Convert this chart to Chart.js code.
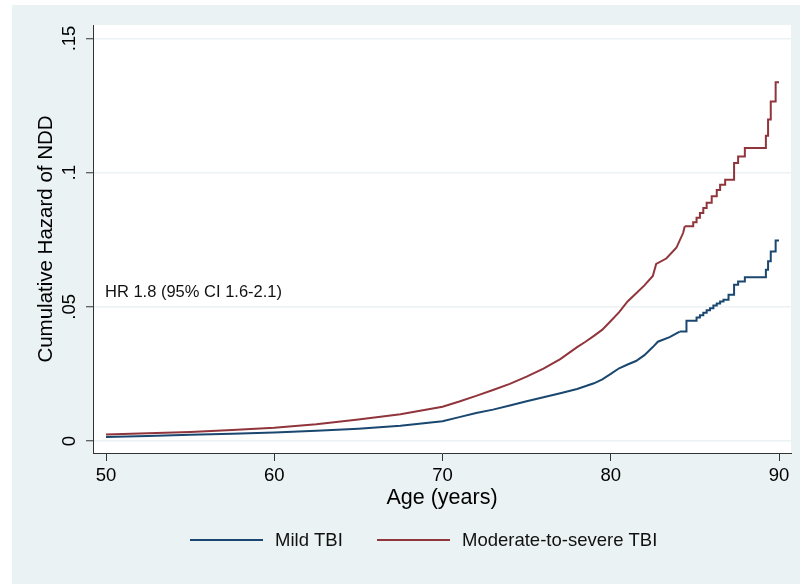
<!DOCTYPE html>
<html>
<head>
<meta charset="utf-8">
<title>Cumulative Hazard of NDD</title>
<script src="https://cdn.jsdelivr.net/npm/chart.js@4.4.1/dist/chart.umd.min.js"></script>
<style>
    html, body { margin: 0; padding: 0; background: #fff; }
    canvas { display: block; }
</style>
</head>
<body>
<canvas id="hazardChart" width="800" height="584"></canvas>
<script>
// values (age in years, cumulative hazard)
const mildAges = [50, 52.5, 55, 57.5, 60, 62.5, 65, 67.5, 70, 71, 72, 73, 74, 75, 76, 77, 78, 79, 79.5, 80, 80.5, 81, 81.5, 82, 82.5, 82.8, 83.5, 84.1, 84.5, 85.1, 85.3, 85.5, 85.7, 85.9, 86.1, 86.3, 86.5, 86.7, 87, 87.33, 87.57, 87.97, 89.22, 89.35, 89.51, 89.8, 90];
const mildHazard = [0.0015, 0.0019, 0.0023, 0.0027, 0.0032, 0.0038, 0.0046, 0.0057, 0.0074, 0.0089, 0.0104, 0.0117, 0.0132, 0.0148, 0.0163, 0.0178, 0.0194, 0.0215, 0.0230, 0.0250, 0.0271, 0.0285, 0.0298, 0.0320, 0.0350, 0.0370, 0.0387, 0.0408, 0.0448, 0.0460, 0.0469, 0.0478, 0.0487, 0.0495, 0.0505, 0.0512, 0.0520, 0.0526, 0.0545, 0.0582, 0.0594, 0.0610, 0.0638, 0.0670, 0.0706, 0.0747, 0.0747];

const severeAges = [50, 52.5, 55, 57.5, 60, 62.5, 65, 67.5, 70, 71, 72, 73, 74, 75, 76, 77, 78, 78.5, 79, 79.5, 80, 80.5, 81, 81.5, 82, 82.5, 82.7, 83.3, 83.9, 84.3, 84.4, 84.9, 85.1, 85.3, 85.5, 85.7, 86, 86.3, 86.5, 86.8, 87.33, 87.57, 87.97, 89.22, 89.35, 89.51, 89.8, 90];
const severeHazard = [0.0024, 0.0029, 0.0034, 0.0041, 0.0049, 0.0062, 0.0080, 0.0100, 0.0128, 0.0147, 0.0168, 0.0190, 0.0213, 0.0240, 0.0270, 0.0305, 0.0350, 0.0370, 0.0392, 0.0415, 0.0447, 0.0480, 0.0520, 0.0550, 0.0580, 0.0615, 0.0660, 0.0680, 0.0720, 0.0775, 0.0800, 0.0815, 0.0832, 0.0850, 0.0868, 0.0888, 0.0912, 0.0935, 0.0955, 0.0974, 0.1036, 0.1060, 0.1092, 0.1138, 0.1198, 0.1265, 0.1337, 0.1337];

const seriesLabels = ['Mild TBI', 'Moderate-to-severe TBI'];
const xTicks = [50, 60, 70, 80, 90];
const yTicks = [0, 0.05, 0.1, 0.15];
const yTickLabels = ['0', '.05', '.1', '.15'];

// past this age the events are sparse and the curve shows as clear steps
const STEP_FROM = 84.4;

const FONT = '"Liberation Sans", Arial, Helvetica, sans-serif';
const NAVY = '#1a476f';
const MAROON = '#90353b';
const REGION_BG = '#eaf2f3';

const toPoints = (xs, ys) => xs.map((x, i) => ({ x: x, y: ys[i] }));

// dense part as a plain line, sparse tail as a step function
function seriesDatasets(ages, hazard, color) {
    const pts = toPoints(ages, hazard);
    let split = pts.findIndex(p => p.x > STEP_FROM) - 1;
    if (split < 0) split = 0;
    const base = { borderColor: color, borderWidth: 2, pointRadius: 0, fill: false };
    return [
        Object.assign({ data: pts.slice(0, split + 1), stepped: false }, base),
        Object.assign({ data: pts.slice(split), stepped: true }, base)
    ];
}

// graph region + white plot region, like the Stata s2color scheme
const backgroundPlugin = {
    id: 'background',
    beforeDraw(chart) {
        const { ctx, chartArea } = chart;
        ctx.save();
        ctx.fillStyle = '#fff';
        ctx.fillRect(0, 0, chart.width, chart.height);
        ctx.fillStyle = REGION_BG;
        ctx.fillRect(12, 5, chart.width - 12, chart.height - 5);
        ctx.fillStyle = '#fff';
        ctx.fillRect(chartArea.left, chartArea.top, chartArea.right - chartArea.left, chartArea.bottom - chartArea.top);
        ctx.restore();
    }
};

// HR text and the bottom legend
const overlayPlugin = {
    id: 'overlay',
    afterDraw(chart) {
        const { ctx, scales } = chart;
        ctx.save();
        ctx.fillStyle = '#111';
        ctx.font = '16.5px ' + FONT;
        ctx.textAlign = 'left';
        ctx.textBaseline = 'middle';
        ctx.fillText('HR 1.8 (95% CI 1.6-2.1)', scales.x.getPixelForValue(50) - 1, scales.y.getPixelForValue(0.0554));

        const legendY = 540;
        const items = [
            { lineX: 190, textX: 275, color: NAVY },
            { lineX: 377, textX: 462, color: MAROON }
        ];
        ctx.font = '18.5px ' + FONT;
        items.forEach((item, i) => {
            ctx.strokeStyle = item.color;
            ctx.lineWidth = 2;
            ctx.beginPath();
            ctx.moveTo(item.lineX, legendY);
            ctx.lineTo(item.lineX + 73, legendY);
            ctx.stroke();
            ctx.fillText(seriesLabels[i], item.textX, legendY + 1);
        });
        ctx.restore();
    }
};

new Chart(document.getElementById('hazardChart'), {
    type: 'line',
    data: {
        datasets: [
            ...seriesDatasets(mildAges, mildHazard, NAVY),
            ...seriesDatasets(severeAges, severeHazard, MAROON)
        ]
    },
    options: {
        responsive: false,
        animation: false,
        devicePixelRatio: 1,
        layout: { padding: { left: 12, top: 25, right: 9, bottom: 0 } },
        plugins: {
            legend: { display: false },
            tooltip: { enabled: false }
        },
        scales: {
            x: {
                type: 'linear',
                min: 49.227,
                max: 90.713,
                afterBuildTicks: (scale) => { scale.ticks = xTicks.map(v => ({ value: v })); },
                afterFit: (scale) => { scale.height = 131; },
                ticks: {
                    color: '#000',
                    font: { family: FONT, size: 18.5 },
                    padding: 4,
                    autoSkip: false,
                    maxRotation: 0
                },
                grid: {
                    drawOnChartArea: false,
                    tickLength: 8,
                    tickColor: '#333',
                    tickWidth: 1
                },
                border: { color: '#333', width: 1 },
                title: {
                    display: true,
                    text: 'Age (years)',
                    color: '#000',
                    font: { family: FONT, size: 21.5 },
                    padding: { top: 0, bottom: 73 }
                }
            },
            y: {
                type: 'linear',
                min: -0.00447,
                max: 0.15503,
                afterBuildTicks: (scale) => { scale.ticks = yTicks.map(v => ({ value: v })); },
                afterFit: (scale) => { scale.width = 81; },
                ticks: {
                    color: '#000',
                    font: { family: FONT, size: 18.5 },
                    padding: 3,
                    autoSkip: false,
                    minRotation: 90,
                    maxRotation: 90,
                    crossAlign: 'center',
                    callback: (value, index) => yTickLabels[index]
                },
                grid: {
                    color: REGION_BG,
                    lineWidth: 1.5,
                    tickLength: 7,
                    tickColor: '#333',
                    tickWidth: 1
                },
                border: { color: '#333', width: 1 },
                title: {
                    display: true,
                    text: 'Cumulative Hazard of NDD',
                    color: '#000',
                    font: { family: FONT, size: 20.5 },
                    padding: { top: 22, bottom: 0 }
                }
            }
        }
    },
    plugins: [backgroundPlugin, overlayPlugin]
});
</script>
</body>
</html>
